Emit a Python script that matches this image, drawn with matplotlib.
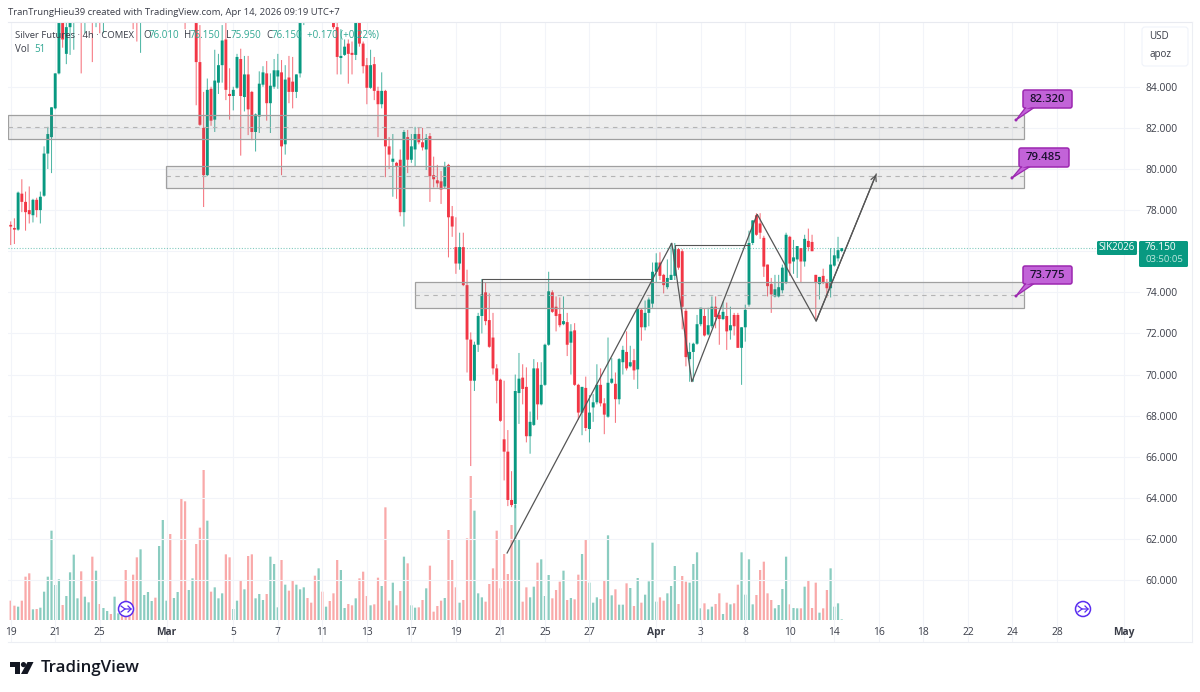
import matplotlib
matplotlib.use("Agg")
import matplotlib.pyplot as plt
from matplotlib.patches import Rectangle, FancyBboxPatch, Polygon, Circle

plt.rcParams['font.family'] = ['Open Sans', 'DejaVu Sans']

opens = [77.25,77.1,77.05,78.8,78.4,78.0,77.75,78.5,78.0,78.7,
80.75,81.55,82.95,84.65,88.0,85.6,86.9,87.2,87.6,88.9,
87.8,88.9,89.7,87.9,89.0,88.2,89.3,90.0,89.2,90.2,
90.9,90.1,88.8,88.0,87.5,87.3,90.2,91.2,92.0,92.4,
91.6,93.6,95.0,95.3,93.0,93.6,94.3,89.6,87.9,88.9,
89.4,85.2,82.0,79.7,83.9,82.4,84.2,85.05,86.3,83.65,
83.55,83.95,85.35,83.5,84.6,83.75,81.8,82.55,84.1,84.65,
83.2,84.0,84.5,84.7,81.2,84.45,84.25,83.75,84.65,88.0,
89.0,88.2,88.0,87.8,88.9,88.2,89.2,88.2,86.9,85.4,
85.55,86.1,85.65,85.55,87.4,86.1,85.05,83.95,85.1,83.8,
83.15,83.8,81.1,80.35,80.3,80.45,77.9,81.55,80.45,80.95,
81.7,81.3,80.95,81.6,79.7,79.45,79.4,79.15,80.2,77.7,
76.2,75.4,76.2,74.35,71.7,69.7,71.45,72.85,74.0,72.65,
71.8,70.3,69.75,66.85,66.25,63.9,63.7,69.1,69.85,69.4,
67.0,67.55,70.3,68.55,69.5,71.45,74.0,73.3,72.95,72.45,
72.55,71.55,72.15,69.5,68.15,69.35,67.35,68.4,68.65,69.5,
68.6,67.95,69.6,69.55,68.8,70.6,71.1,70.4,70.7,70.25,
73.15,72.3,73.0,73.45,75.0,75.45,74.85,74.25,74.6,74.8,
76.1,76.0,73.1,70.75,71.1,71.5,72.45,72.85,71.95,72.35,
73.3,72.9,72.7,72.85,72.15,72.9,72.9,71.3,72.3,73.4,
76.4,77.75,77.35,76.65,75.35,74.4,73.8,73.8,74.1,74.45,
76.7,75.5,75.6,76.15,75.5,76.5,76.45,74.85,74.4,74.8,
74.45,74.2,75.3,75.65,76.01]
highs = [77.45,77.6,78.9,79.5,78.9,79.15,78.55,78.6,78.9,81.1,
82.05,83.0,84.65,88.3,88.5,87.4,87.6,88.0,88.6,89.6,
89.2,90.1,90.0,89.5,89.8,89.7,90.4,90.5,90.5,91.3,
91.4,90.6,89.4,88.6,88.2,90.6,91.6,92.4,92.8,93.0,
94.0,95.4,95.8,95.7,94.0,94.8,94.6,90.4,89.4,90.0,
90.0,87.0,83.75,84.4,84.0,85.8,85.6,87.0,87.2,84.9,
84.0,85.6,85.85,85.5,85.5,83.8,82.7,84.75,85.0,85.25,
84.65,85.35,85.6,85.3,85.05,85.5,85.45,84.6,88.4,89.5,
89.5,89.0,88.7,89.3,89.4,89.6,89.7,89.0,87.5,86.8,
86.3,86.3,86.2,87.6,87.7,86.2,85.4,85.8,85.45,84.0,
84.7,83.85,81.55,81.7,80.35,80.95,81.9,81.9,81.7,82.05,
82.0,82.0,81.7,81.75,80.6,80.2,79.9,80.35,80.25,78.2,
77.65,76.9,76.9,75.1,72.05,71.6,73.0,74.65,74.5,73.95,
73.0,70.5,69.8,69.7,67.3,65.3,70.0,71.05,70.5,70.35,
68.2,70.75,70.6,70.6,71.5,75.0,74.1,73.8,73.75,73.8,
73.0,72.45,72.5,69.55,69.4,69.9,69.0,69.05,70.5,70.3,
68.85,71.8,70.8,70.1,70.8,71.4,72.1,71.4,71.25,73.2,
73.2,73.6,73.75,75.45,75.9,75.95,74.9,75.6,76.4,76.4,
76.15,76.1,73.2,71.55,71.55,72.9,73.25,73.2,73.25,73.8,
73.8,73.15,73.55,73.5,73.3,73.0,73.0,72.3,73.4,77.0,
77.5,77.85,77.85,76.75,75.35,74.7,74.85,74.85,75.35,76.9,
76.75,76.55,76.25,76.15,76.8,77.1,76.8,74.85,74.75,75.15,
74.65,76.15,76.15,76.7,76.15]
lows = [76.3,76.35,77.0,77.9,77.0,77.35,77.4,77.65,77.35,78.65,
80.0,79.8,82.9,84.6,85.9,85.1,85.55,85.8,87.3,84.65,
86.6,88.2,85.2,86.9,86.6,86.6,88.6,88.9,88.8,89.7,
89.7,88.3,87.6,86.8,86.2,85.65,89.6,90.7,91.4,91.0,
91.2,93.2,94.2,92.2,92.5,93.2,88.6,86.8,87.3,88.2,
83.1,82.1,78.15,79.65,82.1,81.8,83.65,84.2,83.35,82.4,
82.85,83.9,80.65,82.8,81.65,81.4,80.85,81.75,84.0,82.35,
81.75,83.9,83.9,79.7,80.7,83.2,82.95,83.45,84.45,87.0,
87.6,87.5,87.6,87.5,87.7,87.8,87.8,86.8,84.6,84.6,
85.5,84.15,84.6,85.3,85.95,84.65,83.15,83.9,83.35,81.55,
82.95,79.6,80.0,78.65,78.55,77.7,77.2,79.8,80.3,80.1,
81.2,80.9,79.95,78.4,79.1,79.1,78.3,79.05,75.7,76.7,
74.9,75.1,74.3,70.1,65.55,69.2,71.1,72.0,72.4,71.3,
70.0,68.6,67.7,64.85,63.6,63.55,63.5,67.6,68.55,66.7,
66.15,67.5,67.8,68.5,69.45,71.4,73.0,72.1,72.3,72.4,
70.9,70.0,69.45,67.8,67.05,67.25,66.7,67.7,68.55,68.45,
67.1,67.9,69.55,67.65,68.55,70.0,70.2,70.35,69.75,69.3,
71.65,72.15,72.35,73.25,74.5,74.6,73.95,74.15,74.6,74.6,
75.1,72.2,70.4,69.65,69.65,71.45,72.35,71.85,71.9,72.25,
72.25,71.45,72.65,71.2,71.7,71.9,71.3,69.5,71.6,73.3,
76.3,76.75,76.6,74.75,73.8,73.0,73.75,73.75,73.95,74.4,
74.8,74.9,74.7,74.45,75.25,76.0,76.0,72.7,73.65,74.4,
73.75,73.75,75.25,75.5,75.95]
closes = [77.2,77.05,78.85,78.4,77.9,77.8,78.5,78.0,78.65,80.75,
81.7,83.0,84.65,88.0,86.3,86.9,87.4,87.6,88.3,87.8,
88.9,89.7,88.0,89.0,88.2,89.3,90.0,89.2,90.2,90.9,
90.1,88.8,88.0,87.5,87.3,90.2,91.2,92.0,92.4,91.6,
93.6,95.0,95.3,93.0,93.6,94.3,89.6,87.9,88.9,89.4,
85.2,82.15,79.7,83.85,82.35,84.3,85.05,86.25,83.85,83.55,
83.85,85.45,83.55,84.6,82.9,81.8,82.65,84.15,84.7,83.2,
84.05,84.8,84.8,81.1,84.35,83.75,83.75,84.6,88.0,89.0,
88.2,88.0,87.8,88.9,88.2,89.2,88.2,86.9,85.45,85.5,
85.95,85.6,85.55,87.4,86.1,85.0,83.95,85.05,83.8,83.15,
83.8,81.1,80.7,80.5,80.15,77.9,81.8,80.45,81.1,81.7,
81.3,81.05,81.5,79.65,79.5,79.3,79.0,80.1,77.65,77.2,
75.4,76.2,74.35,71.7,69.7,71.45,72.85,73.9,72.6,71.35,
70.3,69.7,67.75,66.25,63.9,63.65,69.2,69.8,69.3,67.0,
67.7,70.3,68.55,69.5,71.45,74.05,73.05,72.85,72.4,72.6,
71.45,72.1,69.5,68.15,69.4,67.4,68.15,68.65,69.5,68.6,
68.05,69.6,69.8,68.8,70.75,71.2,70.3,70.6,70.2,73.2,
72.3,73.0,73.65,75.0,75.45,74.8,74.35,74.7,74.85,76.1,
75.2,73.3,70.85,71.1,71.5,72.45,73.25,71.9,72.4,73.3,
72.8,72.7,73.05,72.1,72.4,72.35,71.3,72.3,73.15,76.4,
77.5,76.8,76.9,75.25,74.3,73.9,74.15,74.25,75.2,76.8,
75.4,75.7,76.25,75.5,76.6,76.2,76.0,74.45,74.75,74.45,
74.2,75.35,75.8,76.05,76.15]
volumes = [58,43,40,58,130,140,32,33,37,85,
130,268,105,122,45,72,143,196,65,146,
70,53,190,148,48,36,27,18,70,20,
25,150,30,136,188,212,75,84,57,67,
222,300,58,258,66,84,365,356,90,125,
228,277,450,298,85,98,65,80,197,188,
33,58,118,92,192,197,65,78,60,78,
190,168,38,180,106,88,120,106,92,98,
66,52,133,155,85,40,57,80,180,150,
36,48,44,65,125,145,72,44,47,127,
102,338,58,112,44,87,190,170,44,37,
38,60,95,163,25,42,
58,66,270,180,98,52,60,245,432,328,
80,68,55,108,155,268,95,198,138,285,
345,240,55,98,68,100,172,182,72,135,
65,90,115,148,60,66,62,136,198,240,
112,52,68,63,120,254,74,92,46,46,
110,96,42,126,52,76,116,232,55,68,
58,80,102,162,48,132,115,112,168,203,
35,50,32,40,48,80,18,52,47,50,
106,203,76,182,47,75,150,175,80,60,
35,45,93,190,47,36,35,35,100,118,
36,112,22,35,90,155,40,50,2]

price_ticks = [60,62,64,66,68,70,72,74,76,78,80,82,84]
time_tick_pos = [0,12,24,42,60,72,84,96,108,120,132,144,156,174,186,198,210,222,234,246,258,270,282,300]
time_tick_labels = ['19','21','25','Mar','5','7','11','13','17','19','21','25','27','Apr','3','8','10','14','16','18','22','24','28','May']

zone_left = [-0.73, 41.9, 109.0]
zone_right = 273.1
zone_top = [82.62, 80.13, 74.48]
zone_bottom = [81.47, 79.09, 73.26]
zone_mid = [82.05, 79.64, 73.89]
path_x = [133.8,178.2,183.6,201.2,217.1,233.3]
path_y = [61.32,76.4,69.64,77.8,72.6,79.75]
last_price = 76.15

UP, DOWN = '#089981', '#F23645'
UPV, DOWNV = '#8ACCC0', '#F9A9A9'
W, H = 1200, 692
IDX0, STEP = 10.7, 3.71
fig = plt.figure(figsize=(12, 6.92), dpi=100, facecolor='white')
L, R, T, B = 8, 1140, 22, 642
rect = [L/W, 1-B/H, (R-L)/W, (B-T)/H]
n = len(closes)
xs = list(range(n))
xlim = ((L-IDX0)/STEP, (R-IDX0)/STEP)

# volume pane, underneath the price pane
vax = fig.add_axes(rect, facecolor='white')
vax.set_xlim(*xlim)
vax.set_ylim(-66, 1794)
vax.axis('off')
vax.set_zorder(0)

ax = fig.add_axes(rect)
ax.set_zorder(1)
ax.patch.set_alpha(0)
ax.set_xlim(*xlim)
ax.set_ylim(56.99, 87.15)

# grid
ax.set_axisbelow(True)
ax.set_yticks(price_ticks)
ax.set_yticklabels([f'{p:.3f}' for p in price_ticks])
ax.set_xticks(time_tick_pos)
ax.set_xticklabels(time_tick_labels)
ax.grid(True, color='#F2F4F9', lw=0.8)
ax.yaxis.tick_right()
ax.tick_params(axis='y', length=0, pad=3.6, labelsize=7.4, labelcolor='#3a3d48')
ax.tick_params(axis='x', length=0, pad=-11, labelsize=7.4, labelcolor='#3a3d48')
for lab, t in zip(ax.get_xticklabels(), time_tick_labels):
    if t in ('Mar', 'Apr', 'May'):
        lab.set_fontweight('bold')
for s in ax.spines.values():
    s.set_visible(False)

vcolors = [UPV if c >= o else DOWNV for o, c in zip(opens, closes)]
vbars = vax.bar(xs, volumes, width=0.6, color=vcolors, linewidth=0)
for b in vbars:
    b.set_snap(False)

# candles
ccolors = [UP if c >= o else DOWN for o, c in zip(opens, closes)]
wicks = ax.vlines(xs, lows, highs, colors=ccolors, lw=0.75, zorder=3, alpha=0.7)
wicks.set_snap(False)
body_low = [min(o, c) for o, c in zip(opens, closes)]
body_h = [max(abs(c-o), 0.08) for o, c in zip(opens, closes)]
bodies = ax.bar(xs, body_h, bottom=body_low, width=0.78, color=ccolors, linewidth=0, zorder=3.2)
for b in bodies:
    b.set_snap(False)

# zones
for zl, zt, zb, zm in zip(zone_left, zone_top, zone_bottom, zone_mid):
    ax.add_patch(Rectangle((zl, zb), zone_right-zl, zt-zb, fc='#808080', alpha=0.14, ec='none', zorder=4))
    ax.add_patch(Rectangle((zl, zb), zone_right-zl, zt-zb, fc='none', ec='#A0A0A0', lw=0.9, zorder=4.1))
    ax.plot([zl, zone_right], [zm, zm], color='#B4B4B4', lw=0.8, ls=(0, (4, 4)), zorder=4.1)

# last price line
ax.plot([xlim[0], (1097-IDX0)/STEP], [last_price]*2, color=UP, lw=0.8, ls=(0, (1, 1.5)), alpha=0.5, zorder=2)

# trend path and boxes
LINE = '#555555'
ax.plot(path_x, path_y, color=LINE, lw=0.9, zorder=5, solid_joinstyle='miter')
ax.annotate('', xy=(path_x[-1], path_y[-1]), xytext=(path_x[-2], path_y[-2]),
            arrowprops=dict(arrowstyle='->,head_width=0.2,head_length=0.4', color=LINE, lw=0.9, shrinkA=0, shrinkB=0), zorder=5)
ax.plot([127, 127, 172.9], [73.9, 74.64, 74.64], color=LINE, lw=0.8, zorder=5)
ax.plot([179, 179, 199], [75.1, 76.3, 76.3], color=LINE, lw=0.8, zorder=5)

# overlay in pixels for furniture
ov = fig.add_axes([0, 0, 1, 1], facecolor='none')
ov.set_xlim(0, W)
ov.set_ylim(H, 0)
ov.axis('off')
ov.set_zorder(5)

ov.plot([8, 1192], [22, 22], color='#E8EAF0', lw=0.8)
ov.plot([8, 1192], [642, 642], color='#ECEEF3', lw=0.8)
ov.plot([1192, 1192], [22, 642], color='#ECEEF3', lw=0.8)

TC = '#3a3d48'
ov.text(8, 12.5, 'TranTrungHieu39 created with TradingView.com, Apr 14, 2026 09:19 UTC+7', fontsize=6.8, color=TC, va='center')
ov.text(15, 35, 'Silver Futures · 4h · COMEX', fontsize=6.8, color=TC, va='center')
GT = '#2fa792'
for x, lab, val in [(143, 'O', '76.010'), (184, 'H', '76.150'), (226, 'L', '75.950'), (266, 'C', '76.150')]:
    ov.text(x, 35, lab, fontsize=7, color=TC, va='center')
    ov.text(x+6 if lab != 'L' else x+5, 35, val, fontsize=7, color=GT, va='center')
ov.text(307, 35, '+0.170 (+0.22%)', fontsize=7, color=GT, va='center')
ov.text(15, 49, 'Vol', fontsize=7, color=TC, va='center')
ov.text(34, 49, '51', fontsize=7, color=GT, va='center')

# USD box
ov.add_patch(FancyBboxPatch((1142, 27), 46, 39, boxstyle='round,pad=0,rounding_size=3', fc='white', ec='#F0F3FA', lw=0.8))
ov.text(1149, 36.5, 'USD', fontsize=7.1, color=TC, va='center')
ov.text(1149, 55, 'apoz', fontsize=7.1, color=TC, va='center')

# price tags
ov.add_patch(FancyBboxPatch((1097, 241), 40, 14, boxstyle='round,pad=0,rounding_size=1.5', fc=UP, ec='none'))
ov.text(1117, 248, 'SIK2026', fontsize=7, color='white', ha='center', va='center')
ov.add_patch(FancyBboxPatch((1139, 241), 49, 26, boxstyle='round,pad=0,rounding_size=1.5', fc=UP, ec='none'))
ov.text(1145, 248, '76.150', fontsize=7.3, color='white', va='center')
ov.text(1145, 260, '03:50:05', fontsize=6.8, color='#BFE8DF', va='center')

# callouts
PF, PE = '#C263D8', '#9C27B0'
for x0, x1, y0, y1, tx, ty, s in [(1023, 1072, 90, 108, 1016, 120, '82.320'),
                                  (1019, 1069, 148, 167, 1012, 178, '79.485'),
                                  (1023, 1072, 266, 284, 1016, 296, '73.775')]:
    ov.add_patch(Polygon([(x0+3, y1-1), (x0+12, y1-1), (tx, ty)], closed=True, fc=PF, ec=PE, lw=0.9, zorder=3))
    ov.add_patch(FancyBboxPatch((x0, y0), x1-x0, y1-y0, boxstyle='round,pad=0,rounding_size=2', fc=PF, ec=PE, lw=1.1, zorder=3.1))
    ov.add_patch(Polygon([(x0+3.5, y1-2), (x0+11, y1-2), (x0+3, y1+1)], closed=True, fc=PF, ec='none', zorder=3.2))
    ov.add_patch(Circle((tx, ty), 1.5, fc=PE, ec='none', zorder=3.3))
    ov.text((x0+x1)/2, (y0+y1)/2, s, fontsize=8.2, color='#1c1030', ha='center', va='center', fontweight='semibold', zorder=4)

# purple session icons
IC = '#5A2DF0'
for cx, cy in [(126, 609), (1083, 609)]:
    ov.add_patch(Circle((cx, cy), 7.5, fc='white', ec=IC, lw=1.1))
    ov.plot([cx-5, cx-1, cx+5], [cy-3, cy, cy], color=IC, lw=0.9)
    ov.plot([cx-5, cx-1], [cy+3, cy], color=IC, lw=0.9)
    ov.plot([cx+2, cx+5, cx+2], [cy-3, cy, cy+3], color=IC, lw=0.9)

# TradingView logo
LOGO = '#131722'
ov.add_patch(Polygon([(10, 662), (20, 662), (20, 674), (15, 674), (15, 667), (10, 667)], closed=True, fc=LOGO, ec='none'))
ov.add_patch(Circle((23.5, 664.6), 2.6, fc=LOGO, ec='none'))
ov.add_patch(Polygon([(27.5, 662), (33.5, 662), (27.5, 674), (21, 674)], closed=True, fc=LOGO, ec='none'))
ov.text(40.5, 667.5, 'TradingView', fontsize=12.2, color=LOGO, va='center', fontweight='semibold')

fig.savefig('out.png', dpi=100)
